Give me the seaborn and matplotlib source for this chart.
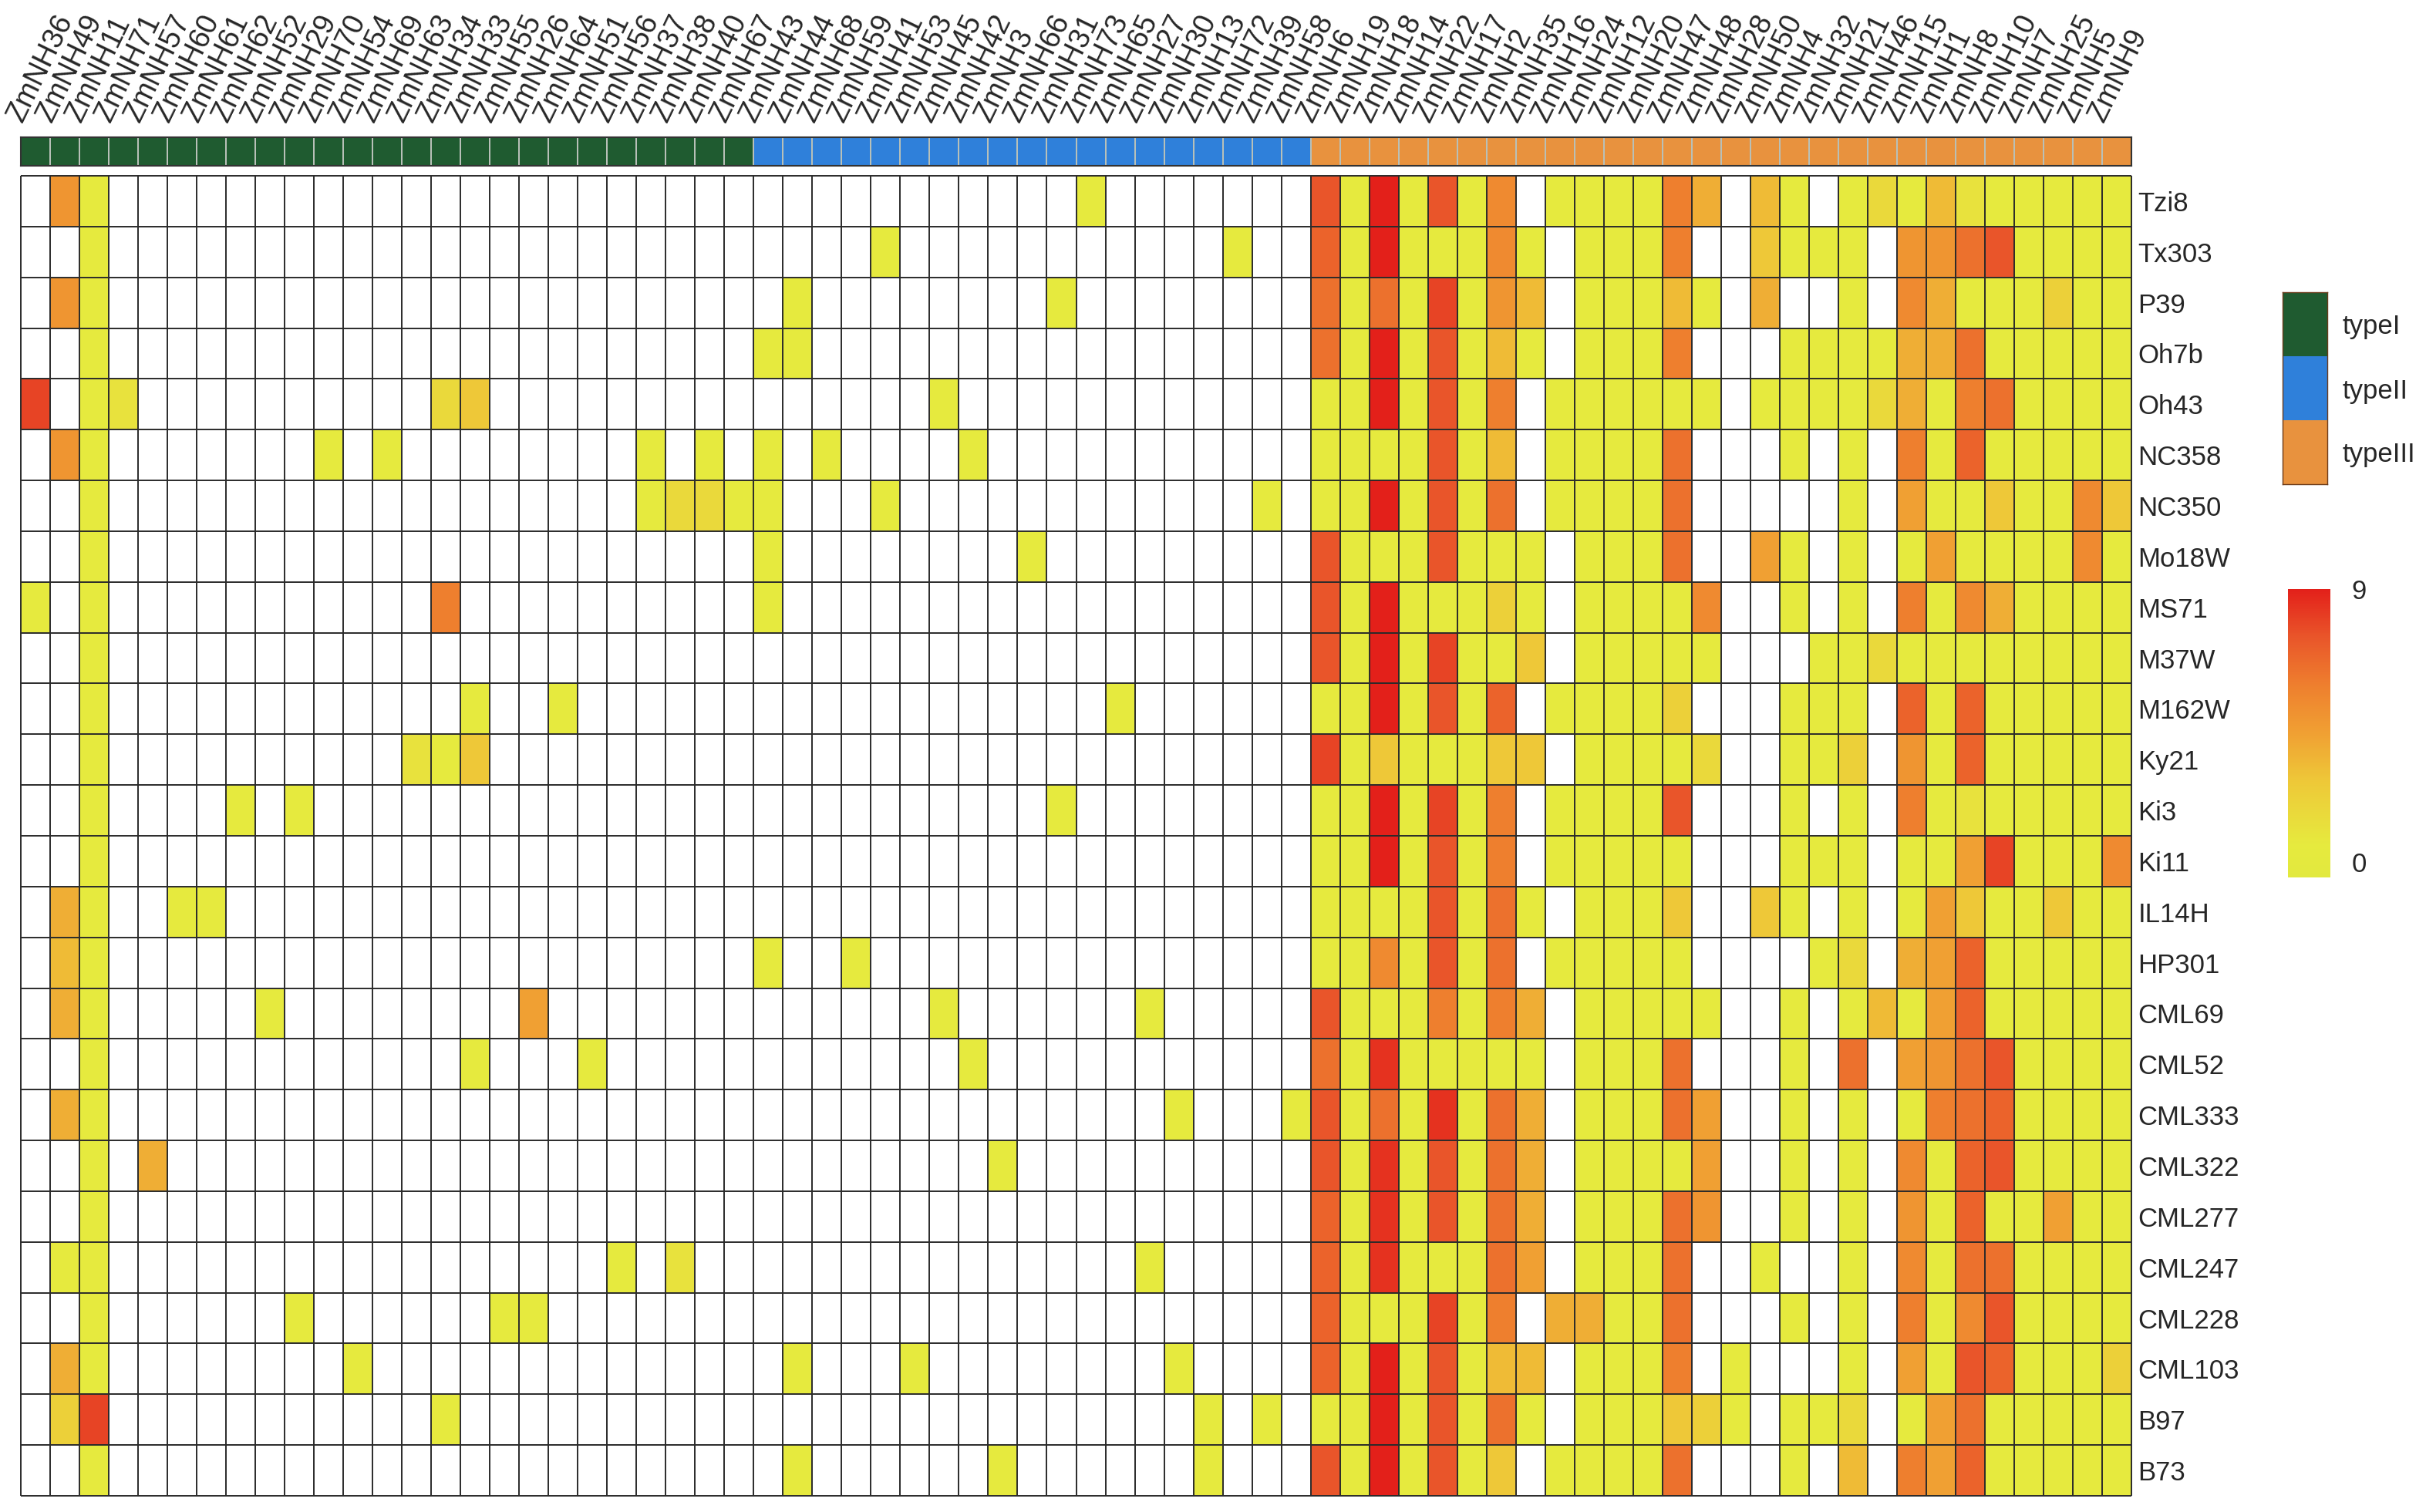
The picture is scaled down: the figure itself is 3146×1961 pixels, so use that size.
import numpy as np
import pandas as pd
import seaborn as sns
import matplotlib.pyplot as plt
from matplotlib.colors import LinearSegmentedColormap, ListedColormap

sns.set_style("white")
plt.rcParams['font.family'] = ['Liberation Sans', 'DejaVu Sans']

# inbred lines (rows, top to bottom)
lines = ["Tzi8", "Tx303", "P39", "Oh7b", "Oh43", "NC358", "NC350", "Mo18W", "MS71",
         "M37W", "M162W", "Ky21", "Ki3", "Ki11", "IL14H", "HP301", "CML69", "CML52",
         "CML333", "CML322", "CML277", "CML247", "CML228", "CML103", "B97", "B73"]

# genes (columns) grouped by type
type1_genes = ["ZmNH36", "ZmNH49", "ZmNH11", "ZmNH71", "ZmNH57", "ZmNH60", "ZmNH61", "ZmNH62",
               "ZmNH52", "ZmNH29", "ZmNH70", "ZmNH54", "ZmNH69", "ZmNH63", "ZmNH34", "ZmNH33",
               "ZmNH55", "ZmNH26", "ZmNH64", "ZmNH51", "ZmNH56", "ZmNH37", "ZmNH38", "ZmNH40",
               "ZmNH67"]
type2_genes = ["ZmNH43", "ZmNH44", "ZmNH68", "ZmNH59", "ZmNH41", "ZmNH53", "ZmNH45", "ZmNH42",
               "ZmNH3", "ZmNH66", "ZmNH31", "ZmNH73", "ZmNH65", "ZmNH27", "ZmNH30", "ZmNH13",
               "ZmNH72", "ZmNH39", "ZmNH58"]
type3_genes = ["ZmNH6", "ZmNH19", "ZmNH18", "ZmNH14", "ZmNH22", "ZmNH17", "ZmNH2", "ZmNH35",
               "ZmNH16", "ZmNH24", "ZmNH12", "ZmNH20", "ZmNH47", "ZmNH48", "ZmNH28", "ZmNH50",
               "ZmNH4", "ZmNH32", "ZmNH21", "ZmNH46", "ZmNH15", "ZmNH1", "ZmNH8", "ZmNH10",
               "ZmNH7", "ZmNH25", "ZmNH5", "ZmNH9"]
type_names = ["typeI", "typeII", "typeIII"]
type_colors = ["#1f5b30", "#2f80da", "#e8923e"]

# expressed typeI / typeII genes per line (others not expressed)
sparse_hits = {
    "Tzi8": {"ZmNH49": 5, "ZmNH11": 1, "ZmNH73": 1},
    "Tx303": {"ZmNH11": 1, "ZmNH41": 1, "ZmNH72": 1},
    "P39": {"ZmNH49": 5, "ZmNH11": 1, "ZmNH44": 1, "ZmNH31": 1},
    "Oh7b": {"ZmNH11": 1, "ZmNH43": 1, "ZmNH44": 1},
    "Oh43": {"ZmNH36": 8, "ZmNH11": 1, "ZmNH71": 1.5, "ZmNH34": 2, "ZmNH33": 3, "ZmNH45": 1},
    "NC358": {"ZmNH49": 5, "ZmNH11": 1, "ZmNH70": 1, "ZmNH69": 1, "ZmNH37": 1, "ZmNH40": 1,
              "ZmNH43": 1, "ZmNH68": 1, "ZmNH42": 1},
    "NC350": {"ZmNH11": 1, "ZmNH37": 1, "ZmNH38": 2, "ZmNH40": 2, "ZmNH67": 1, "ZmNH43": 1,
              "ZmNH41": 1, "ZmNH39": 1},
    "Mo18W": {"ZmNH11": 1, "ZmNH43": 1, "ZmNH66": 1},
    "MS71": {"ZmNH36": 1, "ZmNH11": 1, "ZmNH34": 6, "ZmNH43": 1},
    "M37W": {"ZmNH11": 1},
    "M162W": {"ZmNH11": 1, "ZmNH33": 1, "ZmNH64": 1, "ZmNH65": 1},
    "Ky21": {"ZmNH11": 1, "ZmNH63": 1.5, "ZmNH34": 1, "ZmNH33": 3},
    "Ki3": {"ZmNH11": 1, "ZmNH62": 1, "ZmNH29": 1, "ZmNH31": 1},
    "Ki11": {"ZmNH11": 1},
    "IL14H": {"ZmNH49": 4, "ZmNH11": 1, "ZmNH60": 1, "ZmNH61": 1},
    "HP301": {"ZmNH49": 3.5, "ZmNH11": 1, "ZmNH43": 1, "ZmNH59": 1},
    "CML69": {"ZmNH49": 4, "ZmNH11": 1, "ZmNH52": 1, "ZmNH26": 4.5, "ZmNH45": 1, "ZmNH27": 1},
    "CML52": {"ZmNH11": 1, "ZmNH33": 1, "ZmNH51": 1, "ZmNH42": 1},
    "CML333": {"ZmNH49": 4, "ZmNH11": 1, "ZmNH30": 1, "ZmNH58": 1},
    "CML322": {"ZmNH11": 1, "ZmNH57": 4, "ZmNH3": 1},
    "CML277": {"ZmNH11": 1},
    "CML247": {"ZmNH49": 1, "ZmNH11": 1, "ZmNH56": 1, "ZmNH38": 1.5, "ZmNH27": 1},
    "CML228": {"ZmNH11": 1, "ZmNH29": 1, "ZmNH55": 1, "ZmNH26": 1},
    "CML103": {"ZmNH49": 4, "ZmNH11": 1, "ZmNH54": 1, "ZmNH44": 1, "ZmNH53": 1, "ZmNH30": 1},
    "B97": {"ZmNH49": 2.5, "ZmNH11": 8, "ZmNH34": 1, "ZmNH13": 1, "ZmNH39": 1},
    "B73": {"ZmNH11": 1, "ZmNH44": 1, "ZmNH3": 1, "ZmNH13": 1},
}

n = np.nan
# typeIII values, one row per line, columns in type3_genes order
type3_values = [
    [7.5, 1, 9, 1, 7.5, 1, 5.5, n, 1, 1, 1, 1, 6, 4, n, 3.5, 1, n, 1, 2, 1, 3.5, 1.5, 1, 1, 1, 1, 1],
    [7, 1, 9, 1, 1, 1, 5.5, 1, n, 1, 1, 1, 6, n, n, 3, 1, 1, 1, n, 5, 5, 6.5, 7.5, 1, 1, 1, 1],
    [6.5, 1, 6.5, 1, 8, 1, 5, 3.5, n, 1, 1, 1, 3.5, 1, n, 4, n, n, 1, n, 5.5, 4, 1, 1, 1, 2.5, 1, 1],
    [6.5, 1, 9, 1, 7.5, 1, 3.5, 1, n, 1, 1, 1, 6, n, n, n, 1, 1, 1, 1, 4, 4, 6.5, 1, 1, 1, 1, 1],
    [1, 1, 9, 1, 7.5, 1, 6, n, 1, 1, 1, 1, 1, 1, n, 1, 1, 1, 1, 2, 4, 1, 6, 6.5, 1, 1, 1, 1],
    [1, 1, 1, 1, 7.5, 1, 3.5, n, 1, 1, 1, 1, 6.5, n, n, n, 1, n, 1, n, 6, 1, 7, 1, 1, 1, 1, 1],
    [1, 1, 9, 1, 7.5, 1, 6.5, n, 1, 1, 1, 1, 6.5, n, n, n, n, n, 1, n, 4.5, 1, 1, 3, 1, 1, 5.5, 3],
    [7.5, 1, 1, 1, 7.5, 1, 1, 1, n, 1, 1, 1, 6.5, n, n, 4.5, 1, n, 1, n, 1, 4.5, 1, 1, 1, 1, 5.5, 1],
    [7.5, 1, 9, 1, 1, 1, 2.5, 1, n, 1, 1, 1, 1, 5.5, n, n, 1, n, 1, n, 6, 1, 5.5, 4, 1, 1, 1, 1],
    [7.5, 1, 9, 1, 8, 1, 1, 3, n, 1, 1, 1, 1, 1, n, n, n, 1, 1, 2, 1, 1, 1, 1, 1, 1, 1, 1],
    [1, 1, 9, 1, 7.5, 1, 7, n, 1, 1, 1, 1, 2.5, n, n, n, 1, 1, 1, n, 7, 1, 7, 1, 1, 1, 1, 1],
    [8, 1, 3, 1, 1, 1, 3, 3, n, 1, 1, 1, 1, 2, n, n, 1, 1, 2.5, n, 5, 1, 7, 1, 1, 1, 1, 1],
    [1, 1, 9, 1, 8, 1, 6, n, 1, 1, 1, 1, 7.5, n, n, n, 1, n, 1, n, 6, 1, 1.5, 1, 1, 1, 1, 1],
    [1, 1, 9, 1, 7.5, 1, 6, n, 1, 1, 1, 1, 1, n, n, n, 1, 1, 1, n, 1, 1, 4.5, 8, 1, 1, 1, 5.5],
    [1, 1, 1, 1, 7.5, 1, 6.5, 1, n, 1, 1, 1, 3, n, n, 3, 1, n, 1, n, 1, 4.5, 3, 1, 1, 3, 1, 1],
    [1, 1, 5.5, 1, 7.5, 1, 6.5, n, 1, 1, 1, 1, 1, n, n, n, n, 1, 2, n, 4, 4.5, 7, 1, 1, 1, 1, 1],
    [7.5, 1, 1, 1, 6, 1, 6, 4, n, 1, 1, 1, 1, 1, n, n, 1, n, 1, 3.5, 1, 4.5, 7, 1, 1, 1, 1, 1],
    [6.5, 1, 8.5, 1, 1, 1, 1, 1, n, 1, 1, 1, 6.5, n, n, n, 1, n, 6.5, n, 4.5, 5, 6.5, 7.5, 1, 1, 1, 1],
    [7.5, 1, 6.5, 1, 8.5, 1, 6.5, 4, n, 1, 1, 1, 6.5, 4.5, n, n, 1, n, 1, n, 1, 6, 6.5, 7, 1, 1, 1, 1],
    [7.5, 1, 8.5, 1, 7.5, 1, 6.5, 4, n, 1, 1, 1, 1, 4.5, n, n, 1, n, 1, n, 5.5, 1, 7, 7.5, 1, 1, 1, 1],
    [7, 1, 8.5, 1, 7.5, 1, 6.5, 4, n, 1, 1, 1, 6.5, 5, n, n, 1, n, 1, n, 5, 1, 7, 1, 1, 4.5, 1, 1],
    [7, 1, 8.5, 1, 1, 1, 6.5, 4.5, n, 1, 1, 1, 6.5, n, n, 1, n, n, 1, n, 5.5, 1, 6.5, 6.5, 1, 1, 1, 1],
    [7, 1, 1, 1, 8, 1, 6, n, 4, 4, 1, 1, 6.5, n, n, n, 1, n, 1, n, 6, 1, 5.5, 7.5, 1, 1, 1, 1],
    [7, 1, 9, 1, 7.5, 1, 3.5, 3.5, n, 1, 1, 1, 6, n, 1, n, n, n, 1, n, 4.5, 1, 7.5, 7, 1, 1, 1, 2.5],
    [1, 1, 9, 1, 7.5, 1, 6.5, 1, n, 1, 1, 1, 3, 2.5, 1, n, 1, 1, 2, n, 1, 4.5, 6.5, 1, 1, 1, 1, 1],
    [7.5, 1, 9, 1, 7.5, 1, 3, n, 1, 1, 1, 1, 6.5, n, n, n, 1, n, 3.5, n, 6, 4.5, 7, 1, 1, 1, 1, 1],
]

genes = type1_genes + type2_genes + type3_genes
df = pd.DataFrame(np.nan, index=lines, columns=genes)
for line, hits in sparse_hits.items():
    for gene, val in hits.items():
        df.loc[line, gene] = val
df.loc[:, type3_genes] = np.array(type3_values, dtype=float)

gene_type = [0] * len(type1_genes) + [1] * len(type2_genes) + [2] * len(type3_genes)
band = pd.DataFrame([gene_type], columns=genes)

heat_cmap = LinearSegmentedColormap.from_list(
    "ylred", [(0, "#e2e93e"), (1 / 9, "#e6ea3e"), (3 / 9, "#eec838"), (4.5 / 9, "#f0a033"),
              (6 / 9, "#ee7f2e"), (7.5 / 9, "#e9562a"), (1, "#e3201a")])
type_cmap = ListedColormap(type_colors)

W, H = 3146, 1961
fig = plt.figure(figsize=(W / 100, H / 100), dpi=100)
ax = fig.add_axes([27 / W, 1 - 1940 / H, (2764 - 27) / W, (1940 - 228) / H])
band_ax = fig.add_axes([27 / W, 1 - 215 / H, (2764 - 27) / W, 37 / H])
leg_ax = fig.add_axes([2960 / W, 1 - 628 / H, 58 / W, 249 / H])
cax = fig.add_axes([2967 / W, 1 - 1138 / H, 55 / W, (1138 - 764) / H])

sns.heatmap(df, ax=ax, cmap=heat_cmap, vmin=0, vmax=9, cbar_ax=cax,
            xticklabels=False, yticklabels=True, linewidths=0)
ax.hlines(np.arange(len(lines) + 1), 0, len(genes), colors="#2a2a2a", lw=1.4, clip_on=False)
ax.vlines(np.arange(len(genes) + 1), 0, len(lines), colors="#2a2a2a", lw=1.4, clip_on=False)
ax.yaxis.tick_right()
ax.tick_params(axis="y", length=0, pad=6, labelsize=25, labelrotation=0)
ax.set_xlabel("")
ax.set_ylabel("")

# gene type band with labels on top (labels start at each cell's left edge)
sns.heatmap(band, ax=band_ax, cmap=type_cmap, vmin=-0.5, vmax=2.5, cbar=False,
            linewidths=1.2, linecolor="#b8c0b8", xticklabels=True, yticklabels=False)
band_ax.xaxis.tick_top()
band_ax.set_xticks(np.arange(len(genes)) + 0.05)
band_ax.set_xticklabels(genes, rotation=64, ha="left", va="baseline",
                        rotation_mode="anchor", fontsize=27)
band_ax.tick_params(axis="x", length=0, pad=13)
for s in band_ax.spines.values():
    s.set_visible(True)
    s.set_color("#333333")
    s.set_linewidth(1.5)

# type legend
sns.heatmap(pd.DataFrame({"t": [0, 1, 2]}, index=type_names), ax=leg_ax, cmap=type_cmap,
            vmin=-0.5, vmax=2.5, cbar=False, xticklabels=False, yticklabels=True)
leg_ax.yaxis.tick_right()
leg_ax.tick_params(axis="y", length=0, pad=14, labelsize=25, labelrotation=0)
leg_ax.set_ylabel("")
for s in leg_ax.spines.values():
    s.set_visible(True)
    s.set_color("#6a3a1a")
    s.set_linewidth(1.0)

# colour scale
cbar = ax.collections[0].colorbar
cbar.set_ticks([0, 9])
cbar.outline.set_visible(False)
cax.tick_params(length=0, labelsize=25, pad=20)
cax.get_yticklabels()[0].set_va("bottom")

fig.savefig("out.png", dpi=100)
